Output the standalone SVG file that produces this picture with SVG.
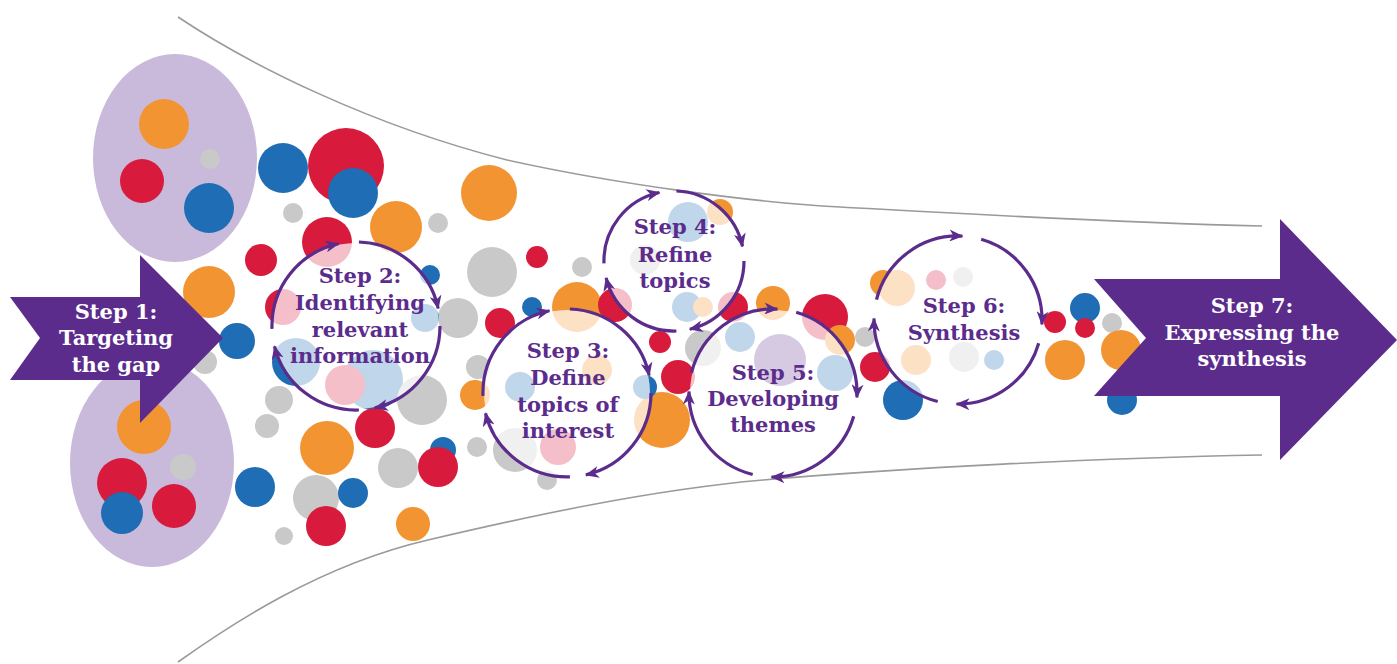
<svg xmlns="http://www.w3.org/2000/svg" width="1397" height="664" viewBox="0 0 1397 664">
<style>
.o{fill:#f29431}.r{fill:#d81b3c}.b{fill:#1f6db4}.g{fill:#c9c9c9}.p{fill:#6d429b}
.funnel{fill:none;stroke:#9a9a9a;stroke-width:1.6}
.ov{fill:#ffffff;fill-opacity:0.72}
.arc{fill:none;stroke:#5b2c8c;stroke-width:3.2;marker-end:url(#ah)}
.lab{font-family:"DejaVu Serif","Liberation Serif",serif;font-weight:bold;font-size:21px;text-anchor:middle;fill:#5b2c8c}
.wl{fill:#ffffff}
.big{fill:#5b2c8c}
.ell{fill:#c9badb}
</style>
<defs>
<marker id="ah" markerUnits="userSpaceOnUse" markerWidth="14" markerHeight="12" refX="13" refY="6" orient="auto">
<path d="M0,0 L14,6 L0,12 L4,6 Z" fill="#5b2c8c"/>
</marker>
</defs>
<rect width="1397" height="664" fill="#ffffff"/>
<g id="funnel">
<path class="funnel" d="M178,17 C250,65 370,125 507,160 C620,185 760,203 840,207 C950,213 1100,222 1262,226"/>
<path class="funnel" d="M178,662 C230,625 320,565 428,540 C530,516 650,490 763,480 C900,468 1100,458 1262,455"/>
</g>
<g id="clusters">
<ellipse class="ell" cx="175" cy="158" rx="82" ry="104"/>
<ellipse class="ell" cx="152" cy="463" rx="82" ry="104"/>
</g>
<g id="bubbles">
<circle class="o" cx="164" cy="124" r="25"/>
<circle class="r" cx="142" cy="181" r="22"/>
<circle class="g" cx="210" cy="159" r="10"/>
<circle class="b" cx="209" cy="208" r="25"/>
<circle class="o" cx="144" cy="427" r="27"/>
<circle class="r" cx="122" cy="483" r="25"/>
<circle class="b" cx="122" cy="513" r="21"/>
<circle class="r" cx="174" cy="506" r="22"/>
<circle class="g" cx="183" cy="467" r="13"/>
<circle class="b" cx="283" cy="168" r="25"/>
<circle class="r" cx="346" cy="166" r="38"/>
<circle class="b" cx="353" cy="193" r="25"/>
<circle class="g" cx="293" cy="213" r="10"/>
<circle class="o" cx="396" cy="227" r="26"/>
<circle class="g" cx="438" cy="223" r="10"/>
<circle class="r" cx="327" cy="242" r="25"/>
<circle class="r" cx="261" cy="260" r="16"/>
<circle class="o" cx="209" cy="292" r="26"/>
<circle class="r" cx="283" cy="307" r="18"/>
<circle class="b" cx="430" cy="275" r="10"/>
<circle class="g" cx="458" cy="318" r="20"/>
<circle class="b" cx="237" cy="341" r="18"/>
<circle class="g" cx="205" cy="362" r="12"/>
<circle class="b" cx="296" cy="362" r="24"/>
<circle class="b" cx="373" cy="380" r="30"/>
<circle class="r" cx="345" cy="385" r="20"/>
<circle class="b" cx="425" cy="318" r="14"/>
<circle class="g" cx="279" cy="400" r="14"/>
<circle class="g" cx="267" cy="426" r="12"/>
<circle class="g" cx="422" cy="400" r="25"/>
<circle class="r" cx="375" cy="428" r="20"/>
<circle class="o" cx="327" cy="448" r="27"/>
<circle class="b" cx="443" cy="450" r="13"/>
<circle class="r" cx="438" cy="467" r="20"/>
<circle class="g" cx="398" cy="468" r="20"/>
<circle class="b" cx="255" cy="487" r="20"/>
<circle class="g" cx="316" cy="498" r="23"/>
<circle class="b" cx="353" cy="493" r="15"/>
<circle class="r" cx="326" cy="526" r="20"/>
<circle class="o" cx="413" cy="524" r="17"/>
<circle class="g" cx="284" cy="536" r="9"/>
<circle class="o" cx="489" cy="193" r="28"/>
<circle class="g" cx="492" cy="272" r="25"/>
<circle class="r" cx="537" cy="257" r="11"/>
<circle class="g" cx="582" cy="267" r="10"/>
<circle class="b" cx="532" cy="307" r="10"/>
<circle class="r" cx="500" cy="323" r="15"/>
<circle class="o" cx="577" cy="307" r="25"/>
<circle class="r" cx="615" cy="305" r="17"/>
<circle class="g" cx="645" cy="260" r="15"/>
<circle class="b" cx="688" cy="222" r="20"/>
<circle class="o" cx="720" cy="212" r="13"/>
<circle class="r" cx="733" cy="307" r="15"/>
<circle class="b" cx="687" cy="307" r="15"/>
<circle class="o" cx="703" cy="307" r="10"/>
<circle class="g" cx="703" cy="348" r="18"/>
<circle class="r" cx="660" cy="342" r="11"/>
<circle class="r" cx="678" cy="377" r="17"/>
<circle class="o" cx="773" cy="303" r="17"/>
<circle class="r" cx="825" cy="317" r="23"/>
<circle class="o" cx="840" cy="340" r="15"/>
<circle class="g" cx="865" cy="337" r="10"/>
<circle class="r" cx="875" cy="367" r="15"/>
<circle class="b" cx="903" cy="400" r="20"/>
<circle class="o" cx="883" cy="283" r="13"/>
<circle class="o" cx="897" cy="288" r="18"/>
<circle class="p" cx="780" cy="360" r="26"/>
<circle class="b" cx="740" cy="337" r="15"/>
<circle class="b" cx="835" cy="373" r="18"/>
<circle class="o" cx="662" cy="420" r="28"/>
<circle class="b" cx="645" cy="387" r="12"/>
<circle class="b" cx="520" cy="387" r="15"/>
<circle class="o" cx="597" cy="370" r="15"/>
<circle class="g" cx="515" cy="450" r="22"/>
<circle class="r" cx="558" cy="447" r="18"/>
<circle class="o" cx="475" cy="395" r="15"/>
<circle class="g" cx="478" cy="367" r="12"/>
<circle class="g" cx="477" cy="447" r="10"/>
<circle class="g" cx="547" cy="480" r="10"/>
<circle class="r" cx="936" cy="280" r="10"/>
<circle class="g" cx="963" cy="277" r="10"/>
<circle class="o" cx="916" cy="360" r="15"/>
<circle class="g" cx="964" cy="357" r="15"/>
<circle class="b" cx="994" cy="360" r="10"/>
<circle class="r" cx="1055" cy="322" r="11"/>
<circle class="b" cx="1085" cy="308" r="15"/>
<circle class="r" cx="1085" cy="328" r="10"/>
<circle class="g" cx="1112" cy="323" r="10"/>
<circle class="o" cx="1065" cy="360" r="20"/>
<circle class="o" cx="1121" cy="350" r="20"/>
<circle class="b" cx="1122" cy="400" r="15"/>
</g>
<g id="step1">
<polygon class="big" points="10,297 140,297 140,255 223,338 140,423 140,380 10,380 40,338"/>
<text class="lab wl"><tspan x="116" y="319">Step 1:</tspan><tspan x="116" y="345">Targeting</tspan><tspan x="116" y="372">the gap</tspan></text>
</g>
<g id="step2">
<circle class="ov" cx="356" cy="326" r="83"/>
<text class="lab"><tspan x="360" y="283">Step 2:</tspan><tspan x="360" y="310">Identifying</tspan><tspan x="360" y="337">relevant</tspan><tspan x="360" y="363">information</tspan></text>
</g>
<g id="step3">
<circle class="ov" cx="567" cy="393" r="83"/>
<text class="lab"><tspan x="568" y="358">Step 3:</tspan><tspan x="568" y="385">Define</tspan><tspan x="568" y="412">topics of</tspan><tspan x="568" y="438">interest</tspan></text>
</g>
<g id="step4">
<circle class="ov" cx="674" cy="261" r="69"/>
<text class="lab"><tspan x="675" y="234">Step 4:</tspan><tspan x="675" y="262">Refine</tspan><tspan x="675" y="288">topics</tspan></text>
</g>
<g id="step5">
<circle class="ov" cx="773" cy="393" r="83"/>
<text class="lab"><tspan x="773" y="380">Step 5:</tspan><tspan x="773" y="406">Developing</tspan><tspan x="773" y="432">themes</tspan></text>
</g>
<g id="step6">
<circle class="ov" cx="958" cy="320" r="83"/>
<text class="lab"><tspan x="964" y="313">Step 6:</tspan><tspan x="964" y="340">Synthesis</tspan></text>
</g>
<g id="step7">
<polygon class="big" points="1094,279 1280,279 1280,219 1397,340 1280,460 1280,396 1094,396 1146,338"/>
<text class="lab wl"><tspan x="1252" y="313">Step 7:</tspan><tspan x="1252" y="340">Expressing the</tspan><tspan x="1252" y="366">synthesis</tspan></text>
</g>
<g id="connectors">
<path class="arc" d="M358.9,242 A84,84 0 0 1 438.2,308.5"/>
<path class="arc" d="M440,326 A84,84 0 0 1 374.9,407.9"/>
<path class="arc" d="M358.9,410 A84,84 0 0 1 274.5,346.3"/>
<path class="arc" d="M272,328.9 A84,84 0 0 1 338.5,243.8"/>
<path class="arc" d="M569.9,309 A84,84 0 0 1 649.2,375.5"/>
<path class="arc" d="M651,393 A84,84 0 0 1 585.9,474.9"/>
<path class="arc" d="M569.9,476.9 A84,84 0 0 1 485.5,413.3"/>
<path class="arc" d="M483,395.9 A84,84 0 0 1 549.5,310.8"/>
<path class="arc" d="M676.4,191 A70,70 0 0 1 742.5,246.4"/>
<path class="arc" d="M744,261 A70,70 0 0 1 689.8,329.2"/>
<path class="arc" d="M676.4,331 A70,70 0 0 1 606.1,277.9"/>
<path class="arc" d="M604,263.4 A70,70 0 0 1 659.4,192.5"/>
<path class="arc" d="M796.2,312.3 A84,84 0 0 1 856.9,397.4"/>
<path class="arc" d="M853.7,416.2 A84,84 0 0 1 771.5,477"/>
<path class="arc" d="M752.7,474.5 A84,84 0 0 1 689,391.5"/>
<path class="arc" d="M691.5,372.7 A84,84 0 0 1 777.4,309.1"/>
<path class="arc" d="M981.2,239.3 A84,84 0 0 1 1041.9,324.4"/>
<path class="arc" d="M1038.7,343.2 A84,84 0 0 1 956.5,404"/>
<path class="arc" d="M937.7,401.5 A84,84 0 0 1 874,318.5"/>
<path class="arc" d="M876.5,299.7 A84,84 0 0 1 962.4,236.1"/>
</g>
</svg>
